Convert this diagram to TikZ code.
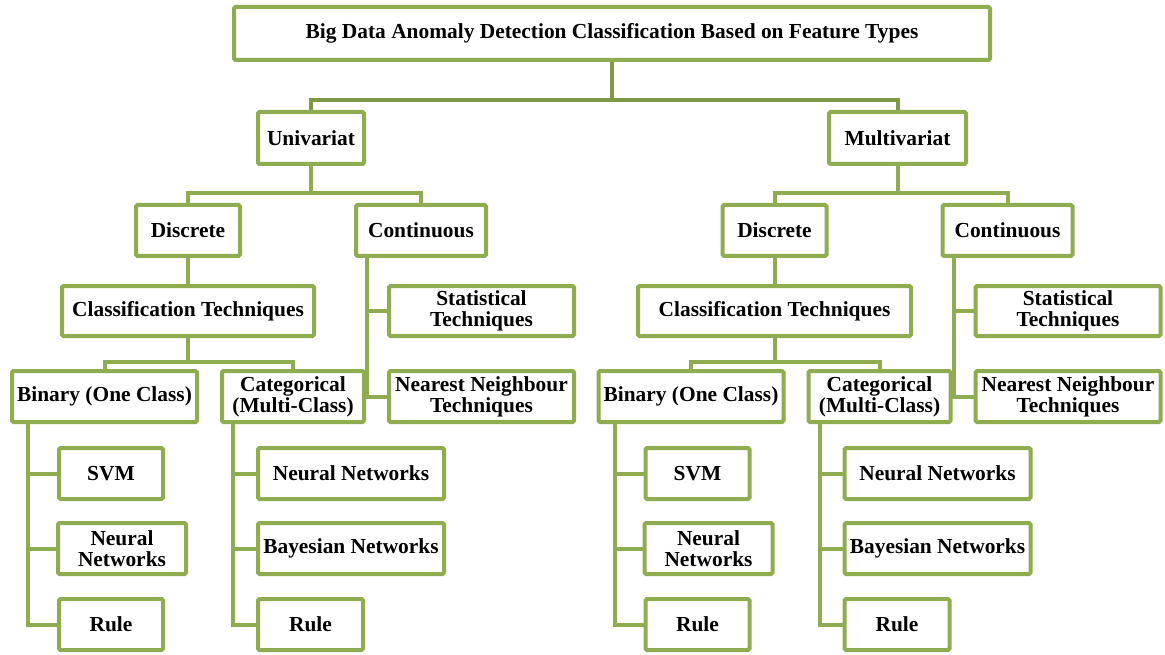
\documentclass[tikz,border=0pt]{standalone}
\usepackage{fontspec}
\setmainfont{Liberation Serif}
\usetikzlibrary{calc}
\definecolor{boxgreen}{HTML}{8FAC50}
\definecolor{trunkgreen}{HTML}{7E9848}
\tikzset{
  box/.style={draw=boxgreen, line width=4pt, fill=white, rounded corners=1.5pt,
    align=center, inner sep=2pt, font=\fontsize{21.4}{21}\selectfont\bfseries},
  link/.style={draw=boxgreen, line width=4pt},
}

\begin{document}
\begin{tikzpicture}[x=1pt,y=-1pt]
\useasboundingbox (0,0) rectangle (1165,655);
\node[box, minimum width=756, minimum height=53] (title) at (612,33.5)
  {Big Data Anomaly Detection Classification Based on Feature Types};
\node[box, minimum width=106, minimum height=52] (uni) at (311,138) {Univariat};
\node[box, minimum width=137, minimum height=52] (multi) at (897.5,138) {Multivariat};
\draw[link, draw=trunkgreen] (title.south) -- ++(0,38) -| (uni.north);
\draw[link, draw=trunkgreen] (title.south) -- ++(0,38) -| (multi.north);

% both halves share one layout
\foreach \s/\dx/\ctw/\top in {a/0/252/uni, b/586.5/273/multi} {
  \node[box, minimum width=104, minimum height=51] (disc\s) at (188+\dx,230.5) {Discrete};
  \node[box, minimum width=130, minimum height=51] (cont\s) at (421+\dx,230.5) {Continuous};
  \node[box, minimum width=\ctw, minimum height=50] (ct\s) at (188+\dx,311) {Classification Techniques};
  \node[box, minimum width=185, minimum height=50] (stat\s) at (481.5+\dx,311) {Statistical\\Techniques};
  \node[box, minimum width=185, minimum height=51] (bin\s) at (104.5+\dx,396.5) {Binary (One Class)};
  \node[box, minimum width=142, minimum height=51] (cat\s) at (293+\dx,396.5) {Categorical\\(Multi-Class)};
  \node[box, minimum width=185, minimum height=51] (nnt\s) at (481.5+\dx,396.5) {Nearest Neighbour\\Techniques};
  \node[box, minimum width=104, minimum height=51] (svm\s) at (111+\dx,473.5) {SVM};
  \node[box, minimum width=128, minimum height=51] (neub\s) at (122+\dx,548.5) {Neural\\Networks};
  \node[box, minimum width=104, minimum height=51] (ruleb\s) at (111+\dx,624.5) {Rule};
  \node[box, minimum width=186, minimum height=51] (neuc\s) at (351+\dx,473.5) {Neural Networks};
  \node[box, minimum width=186, minimum height=51] (bay\s) at (351+\dx,548.5) {Bayesian Networks};
  \node[box, minimum width=105, minimum height=51] (rulec\s) at (310.5+\dx,624.5) {Rule};

  \draw[link] (\top.south) -- ++(0,27) -| (disc\s.north);
  \draw[link] (\top.south) -- ++(0,27) -| (cont\s.north);
  \draw[link] (disc\s) -- (ct\s);
  \draw[link] (ct\s.south) -- ++(0,24) -| (bin\s.north);
  \draw[link] (ct\s.south) -- ++(0,24) -| (cat\s.north);
  \draw[link] ([xshift=13]cont\s.south west) |- (stat\s.west);
  \draw[link] ([xshift=13]cont\s.south west) |- (nnt\s.west);
  \draw[link] ([xshift=18]bin\s.south west) |- (svm\s.west);
  \draw[link] ([xshift=18]bin\s.south west) |- (neub\s.west);
  \draw[link] ([xshift=18]bin\s.south west) |- (ruleb\s.west);
  \draw[link] ([xshift=13]cat\s.south west) |- (neuc\s.west);
  \draw[link] ([xshift=13]cat\s.south west) |- (bay\s.west);
  \draw[link] ([xshift=13]cat\s.south west) |- (rulec\s.west);
}
\end{tikzpicture}
\end{document}
